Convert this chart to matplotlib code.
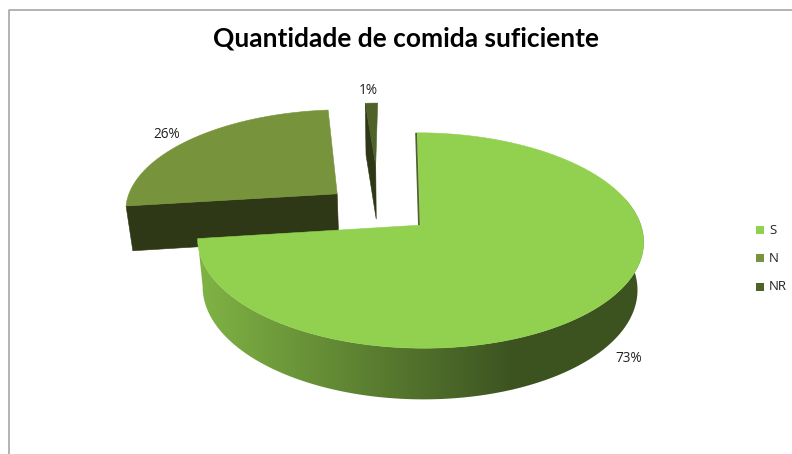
import numpy as np
import matplotlib
matplotlib.use("Agg")
import matplotlib.pyplot as plt
from matplotlib.patches import Polygon, Rectangle

title = "Quantidade de comida suficiente"
categories = ["S", "N", "NR"]
values = [73.0, 25.6, 1.4]
face_colors = ["#92D050", "#77933C", "#4F6228"]

# layout (perspective projection of the exploded pie, in pixels)
CX, CY, A, B, K = 397.0, 212.7, 217.0, 102.0, 0.14
offsets = {"S": (0.105, -0.12), "N": (-0.283, 0.19), "NR": (-0.105, 0.5)}
radii = {"S": 1.0, "N": 0.985, "NR": 0.765}
depth = {"S": 47.0, "N": 45.0, "NR": 56.0}
label_pos = {"S": (629, 359), "N": (167, 134), "NR": (368, 90)}
legend_y = {"S": 230, "N": 258, "NR": 287}
WALL = "#2E3816"
FONT = ["Open Sans", "DejaVu Sans"]

fig = plt.figure(figsize=(7.92, 4.54), dpi=100)
ax = fig.add_axes([0, 0, 1, 1])


def top(U, V):
    w = 1 + K * V
    return CX + A * U / w, CY - B * V / w


def bottom(U, V, d):
    x, y = top(U, V)
    w = 1 + K * V
    return CX + (x - CX) * 0.975, y + d / np.sqrt(w)


def arc(cat, a0, a1, n=160):
    t = np.radians(np.linspace(a0, a1, n))
    ou, ov = offsets[cat]
    r = radii[cat]
    return ou + r * np.sin(t), ov + r * np.cos(t)


total = sum(values)
edges = np.cumsum([0] + values) / total * 360
span = {c: (edges[i], edges[i + 1]) for i, c in enumerate(categories)}


def face(cat):
    U, V = arc(cat, *span[cat])
    ou, ov = offsets[cat]
    U = np.r_[ou, U]
    V = np.r_[ov, V]
    return np.column_stack(top(U, V))


def cut_wall(cat, angle):
    ou, ov = offsets[cat]
    r = radii[cat]
    t = np.radians(angle)
    eu, ev = ou + r * np.sin(t), ov + r * np.cos(t)
    d = depth[cat]
    return [top(ou, ov), top(eu, ev), bottom(eu, ev, d), bottom(ou, ov, d)]


# far slices first
for cat, c in [("NR", face_colors[2]), ("N", face_colors[1])]:
    ax.add_patch(Polygon(cut_wall(cat, span[cat][0]), closed=True, fc=WALL, ec=WALL, lw=0.4))
    ax.add_patch(Polygon(face(cat), closed=True, fc=c, ec=c, lw=0.4))

# main slice: shaded outer wall
U, V = arc("S", 75, span["S"][1], 240)
wall_pts = np.vstack([np.column_stack(top(U, V)),
                      np.column_stack(bottom(U, V, depth["S"]))[::-1]])
clip = Polygon(wall_pts, closed=True, fc="none", ec="none")
ax.add_patch(clip)
xs = np.arange(190, 660)
c0, c1 = np.array([127, 178, 68]) / 255, np.array([60, 83, 32]) / 255
f = np.clip((xs - 203) / (513 - 203), 0, 1)[None, :, None]
grad = c0[None, None, :] * (1 - f) + c1[None, None, :] * f
im = ax.imshow(grad, extent=(190, 660, 420, 120), aspect="auto", interpolation="bilinear")
im.set_clip_path(clip)

# thin visible wall along the main slice's start edge
p = cut_wall("S", span["S"][0])
ax.plot([p[0][0] - 1.2, p[1][0] - 1.2], [p[0][1], p[1][1]], color="#4F6228", lw=1.3, solid_capstyle="butt")
ax.add_patch(Polygon(face("S"), closed=True, fc=face_colors[0], ec=face_colors[0], lw=0.4))

# percentage labels
for cat, v in zip(categories, values):
    x, y = label_pos[cat]
    ax.text(x, y, f"{v / total * 100:.0f}%", ha="center", va="center",
            fontsize=9.8, color="#222222", family=FONT)

# legend
for cat, c in zip(categories, face_colors):
    y = legend_y[cat]
    ax.add_patch(Rectangle((756, y - 4), 8, 8, fc=c, ec="none"))
    ax.text(769, y, cat, ha="left", va="center", fontsize=9.5, color="#222222", family=FONT)

ax.text(406, 39, title, ha="center", va="center", fontsize=19, fontweight="bold",
        color="black", family=["Lato", "DejaVu Sans"])

# chart frame
ax.plot([9, 9, 792], [454, 10, 10], color="#A6A6A6", lw=1.2)

ax.set_xlim(0, 792)
ax.set_ylim(454, 0)
ax.axis("off")
fig.savefig("out.png", dpi=100)
